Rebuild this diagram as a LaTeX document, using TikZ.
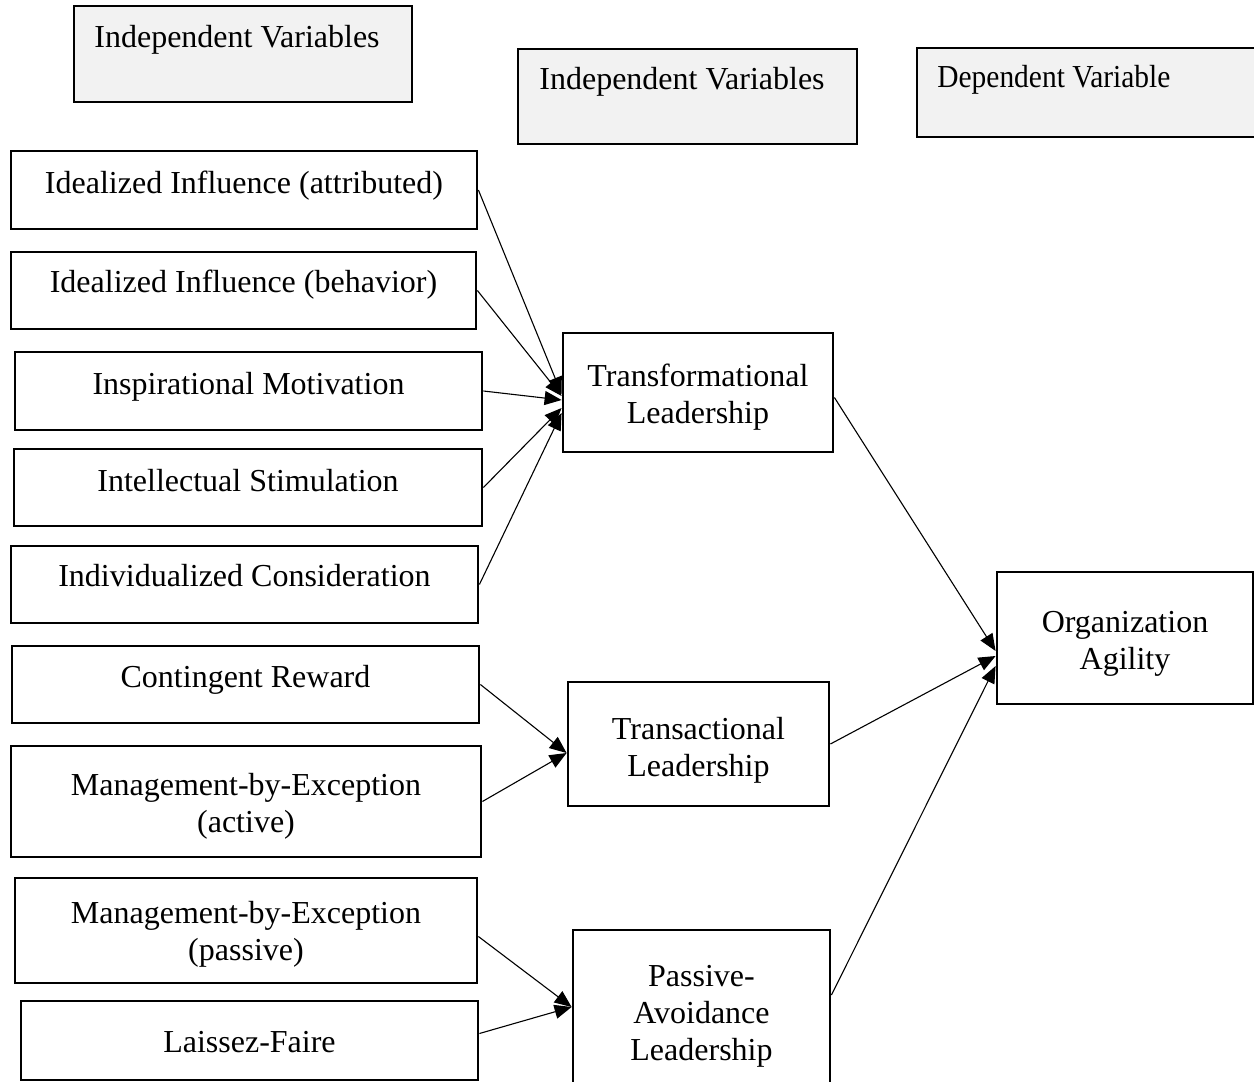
\documentclass[tikz,border=0pt]{standalone}
\usepackage{fontspec}
\setmainfont{Liberation Serif}
\newfontfamily\narrowserif[FakeStretch=0.92]{Liberation Serif}
\usetikzlibrary{arrows.meta,fit,calc}
\definecolor{headgray}{HTML}{F2F2F2}

\begin{document}
\begin{tikzpicture}[x=0.5pt,y=-0.5pt,
  box/.style={draw, line width=1.4pt, inner sep=0pt},
  head/.style={box, fill=headgray},
  lbl/.style={inner sep=0pt, align=center, font=\fontsize{16}{18.5}\selectfont},
  link/.style={line width=0.55pt, -{Triangle[length=8.5pt,width=7pt]}},
]
\useasboundingbox (0,0) rectangle (1254,1082);

% column headings
\node[head, fit={(74,6) (412,102)}] (h1) {};
\node[lbl, anchor=base west] (h1t) at (94,47) {Independent Variables};
\node[head, fit={(518,49) (857,144)}] (h2) {};
\node[lbl, anchor=base west] (h2t) at (539,89) {Independent Variables};
\node[head, fit={(917,48) (1258,137)}] (h3) {};
\node[lbl, anchor=base west, font=\narrowserif\fontsize{16}{18.5}\selectfont] (h3t) at (937,87) {Dependent Variable};

% leadership factors
\node[box, fit={(11,151) (477,229)}] (b1) {};
\node[lbl] (b1t) at ($(b1.center)+(0,-4)$) {Idealized Influence (attributed)};
\node[box, fit={(11,252) (476,329)}] (b2) {};
\node[lbl] (b2t) at ($(b2.center)+(0,-6)$) {Idealized Influence (behavior)};
\node[box, fit={(15,352) (482,430)}] (b3) {};
\node[lbl] (b3t) at ($(b3.center)+(0,-4)$) {Inspirational Motivation};
\node[box, fit={(14,449) (482,526)}] (b4) {};
\node[lbl] (b4t) at ($(b4.center)+(0,-7)$) {Intellectual Stimulation};
\node[box, fit={(11,546) (478,623)}] (b5) {};
\node[lbl] (b5t) at ($(b5.center)+(0,-9)$) {Individualized Consideration};
\node[box, fit={(12,646) (479,723)}] (b6) {};
\node[lbl] (b6t) at ($(b6.center)+(0,-5)$) {Contingent Reward};
\node[box, fit={(11,746) (481,857)}] (b7) {};
\node[lbl] (b7t) at ($(b7.center)+(0,5)$) {Management-by-Exception\\(active)};
\node[box, fit={(15,878) (477,983)}] (b8) {};
\node[lbl] (b8t) at ($(b8.center)+(0,4)$) {Management-by-Exception\\(passive)};
\node[box, fit={(21,1001) (478,1080)}] (b9) {};
\node[lbl] (b9t) at ($(b9.center)+(0,2)$) {Laissez-Faire};

% leadership styles
\node[box, fit={(563,333) (833,452)}] (tf) {};
\node[lbl] (tft) at ($(tf.center)+(0,5)$) {Transformational\\Leadership};
\node[box, fit={(568,682) (829,806)}] (ts) {};
\node[lbl] (tst) at ($(ts.center)+(0,6)$) {Transactional\\Leadership};
\node[box, fit={(573,930) (830,1094)}] (pa) {};
\node[lbl] (pat) at ($(pa.center)+(0,4)$) {Passive-\\Avoidance\\Leadership};

% outcome
\node[box, fit={(997,572) (1253,704)}] (oa) {};
\node[lbl] (oat) at ($(oa.center)+(0,6)$) {Organization\\Agility};

% factor -> style
\draw[link] (b1.east) -- ($(tf.west)+(0,1.5)$);
\draw[link] (b2.east) -- ($(tf.west)+(0,3.5)$);
\draw[link] (b3.east) -- ($(tf.west)+(0,7.5)$);
\draw[link] (b4.east) -- ($(tf.west)+(0,15.5)$);
\draw[link] (b5.east) -- ($(tf.west)+(0,20.5)$);
\draw[link] (b6.east) -- ($(ts.west)+(0,9)$);
\draw[link] (b7.east) -- ($(ts.west)+(0,9)$);
\draw[link] ($(b8.east)+(0,6)$) -- ($(pa.west)+(0,-5)$);
\draw[link] ($(b9.east)+(0,-7)$) -- ($(pa.west)+(0,-5)$);

% style -> outcome
\draw[link] ($(tf.east)+(0,5)$) -- ($(oa.west)+(0,13)$);
\draw[link] (ts.east) -- ($(oa.west)+(0,18)$);
\draw[link] ($(pa.east)+(0,-17)$) -- ($(oa.west)+(0,28)$);
\end{tikzpicture}
\end{document}
